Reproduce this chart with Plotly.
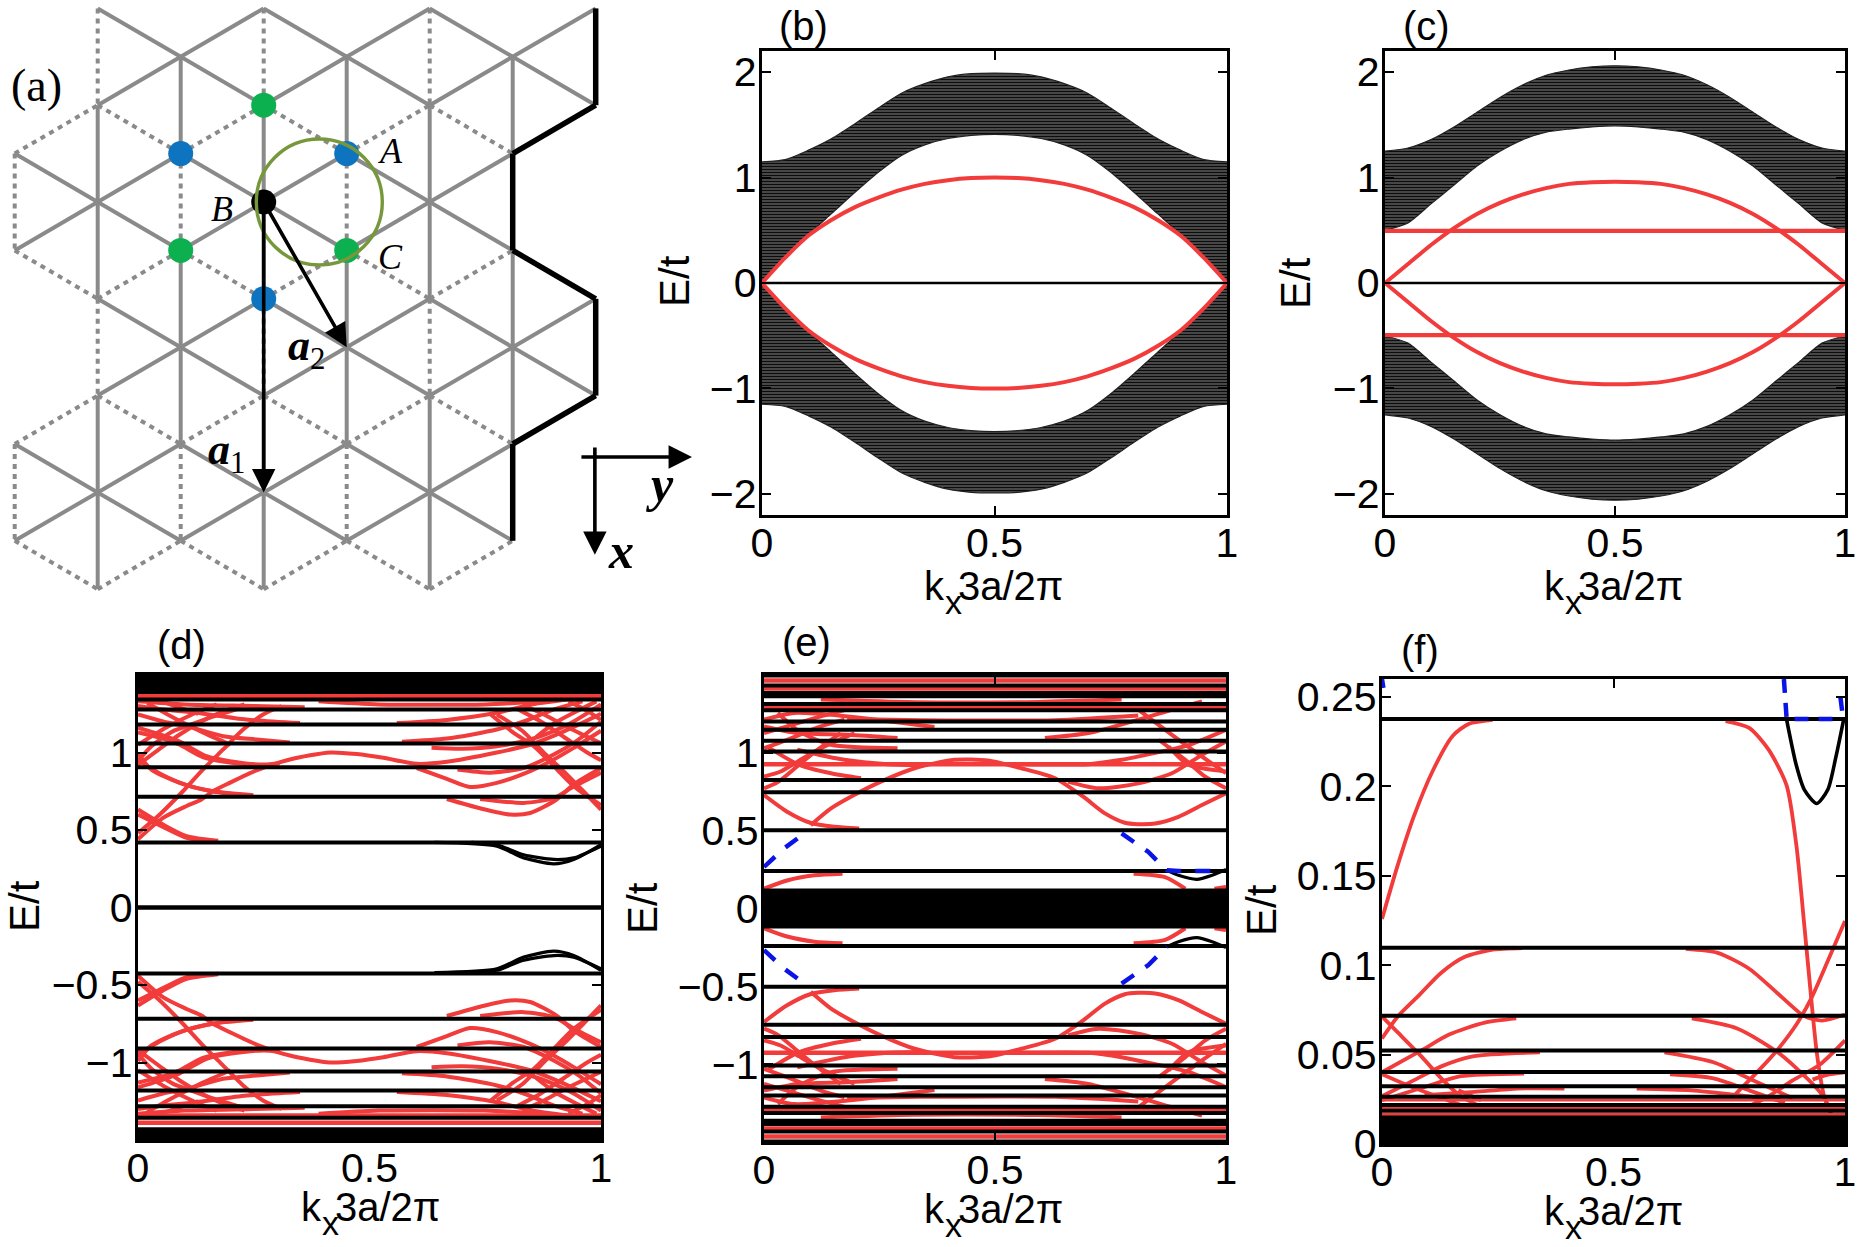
import plotly.graph_objects as go

W, H = 1859, 1247
RED = "#F23B3B"
BLUE = "#0A14E6"
GREY = "#8A8A8A"
SANS = "Liberation Sans"
SERIF = "Liberation Serif"

# ---- panel (a): lattice sites, as row indices per column ----
COLUMN_ROWS = [
    [3, 5, 9, 11],
    [0, 2, 4, 6, 8, 10, 12],
    [1, 3, 5, 7, 9, 11],
    [0, 2, 4, 6, 8, 10, 12],
    [1, 3, 5, 7, 9, 11],
    [0, 2, 4, 6, 8, 10, 12],
    [1, 3, 5, 7, 9, 11],
    [0, 2, 6, 8],
]
BLUE_SITES = [(2, 3), (4, 3), (3, 6)]
GREEN_SITES = [(3, 2), (2, 5), (4, 5)]
BLACK_SITES = [(3, 4)]

# ---- panels (b), (c): band edges ----
K_EDGE = [0, 0.05, 0.1, 0.15, 0.2, 0.25, 0.3, 0.35, 0.4, 0.45, 0.5]
B_OUTER = [1.15, 1.17, 1.26, 1.37, 1.51, 1.66, 1.80, 1.89, 1.955, 1.985, 1.99]
B_INNER = [0.0, 0.24, 0.46, 0.66, 0.86, 1.05, 1.21, 1.31, 1.37, 1.40, 1.41]
C_OUTER = [1.25, 1.28, 1.36, 1.48, 1.62, 1.76, 1.88, 1.97, 2.02, 2.05, 2.06]
C_INNER = [0.50, 0.57, 0.75, 0.93, 1.11, 1.25, 1.36, 1.43, 1.46, 1.48, 1.49]
K_ARC = [0, 0.05, 0.1, 0.15, 0.2, 0.25, 0.3, 0.35, 0.4, 0.45, 0.5]
E_ARC_B = [0.0, 0.24, 0.45, 0.60, 0.72, 0.81, 0.885, 0.94, 0.975, 0.995, 1.0]
E_ARC_C = [0.0, 0.18, 0.36, 0.52, 0.655, 0.76, 0.84, 0.90, 0.94, 0.955, 0.96]
C_FLAT = [0.495]

# ---- panel (d) ----
D_LEVELS_UP = [0.42, 0.715, 0.905, 1.058, 1.18, 1.277, 1.342, 1.39, 1.41, 1.43, 1.45, 1.47, 1.49]
D_LEVELS_DOWN = [-0.426, -0.718, -0.91, -1.058, -1.181, -1.282, -1.357, -1.43, -1.45, -1.47, -1.49]
D_ZERO = [0.0]
D_RED_LEVELS = [1.363, -1.389, -1.342]
D_BLACK_1 = [(0.64, 0.42), (0.775, 0.396), (0.833, 0.32), (0.898, 0.282), (0.941, 0.31), (1, 0.406)]
D_BLACK_2 = [(0.72, 0.42), (0.775, 0.405), (0.833, 0.34), (0.898, 0.31), (0.941, 0.32), (1, 0.396)]
D_1 = [(0, 0.632), (0.054, 0.535), (0.105, 0.46), (0.173, 0.43)]
D_2 = [(0, 0.60), (0.054, 0.52), (0.105, 0.45), (0.173, 0.428)]
D_3 = [(0, 0.48), (0.047, 0.60), (0.097, 0.75), (0.137, 0.88), (0.184, 1.02), (0.227, 1.148), (0.27, 1.245), (0.31, 1.30)]
D_4 = [(0, 0.44), (0.054, 0.578), (0.105, 0.655), (0.137, 0.697), (0.162, 0.75), (0.198, 0.804), (0.256, 0.884),
       (0.328, 0.955), (0.415, 1.0), (0.472, 0.99), (0.53, 0.966), (0.602, 0.927), (0.667, 0.94), (0.775, 1.0),
       (0.847, 1.05), (0.9, 1.11), (0.941, 1.165), (1, 1.25)]
D_5 = [(0, 0.99), (0.029, 0.89), (0.09, 0.804), (0.162, 0.75), (0.249, 0.725)]
D_6 = [(0, 0.95), (0.05, 0.86), (0.105, 0.79), (0.17, 0.745), (0.249, 0.72)]
D_7 = [(0, 1.16), (0.054, 1.11), (0.09, 1.07), (0.148, 0.976), (0.198, 0.944), (0.27, 0.922), (0.306, 0.93)]
D_8 = [(0, 1.13), (0.054, 1.09), (0.09, 1.05), (0.14, 0.97), (0.198, 0.935), (0.27, 0.915)]
D_9 = [(0, 0.944), (0.029, 1.04), (0.076, 1.138), (0.105, 1.17), (0.16, 1.23), (0.22, 1.285)]
D_10 = [(0, 0.92), (0.054, 1.04), (0.09, 1.116), (0.137, 1.2), (0.176, 1.256), (0.23, 1.31)]
D_11 = [(0, 1.245), (0.054, 1.2), (0.105, 1.17), (0.184, 1.105), (0.256, 1.084), (0.328, 1.065)]
D_12 = [(0, 1.30), (0.054, 1.278), (0.126, 1.256), (0.234, 1.213), (0.35, 1.19)]
D_13 = [(0, 1.33), (0.1, 1.31), (0.25, 1.30), (0.36, 1.292)]
D_14 = [(0.667, 0.70), (0.739, 0.64), (0.804, 0.60), (0.847, 0.61), (0.904, 0.697), (0.941, 0.794), (1, 0.90)]
D_15 = [(0.739, 0.70), (0.833, 0.675), (0.898, 0.707), (0.941, 0.78), (1, 0.87)]
D_16 = [(0.602, 0.90), (0.667, 0.83), (0.717, 0.778), (0.775, 0.804), (0.847, 0.88), (0.898, 0.955), (0.941, 1.03), (1, 1.14)]
D_17 = [(0.69, 0.89), (0.76, 0.87), (0.833, 0.90), (0.9, 0.99), (0.95, 1.08), (1, 1.20)]
D_18 = [(0.634, 1.03), (0.70, 1.024), (0.775, 1.04), (0.847, 1.084), (0.898, 1.138), (0.941, 1.20), (1, 1.31)]
D_19 = [(0.57, 1.07), (0.667, 1.09), (0.775, 1.148), (0.833, 1.20), (0.90, 1.28), (0.96, 1.33)]
D_20 = [(0.559, 1.19), (0.667, 1.21), (0.775, 1.256), (0.85, 1.31), (0.95, 1.35)]
D_21 = [(0.775, 1.245), (0.83, 1.14), (0.876, 1.0), (0.919, 0.88), (0.962, 0.75), (1, 0.632)]
D_22 = [(0.76, 1.25), (0.81, 1.13), (0.855, 1.04), (0.898, 0.912), (0.941, 0.783), (1, 0.66)]
D_23 = [(0.82, 1.28), (0.87, 1.20), (0.92, 1.10), (0.97, 1.0), (1, 0.95)]
D_24 = [(0.39, 1.33), (0.52, 1.31), (0.75, 1.31), (0.87, 1.33)]
D_25 = [(0, 1.05), (0.06, 1.16), (0.12, 1.25), (0.17, 1.31)]
D_26 = [(0.02, 1.32), (0.08, 1.22), (0.14, 1.13), (0.2, 1.05)]
D_27 = [(0.83, 1.31), (0.88, 1.24), (0.93, 1.16), (1, 1.06)]
D_28 = [(0.86, 1.10), (0.90, 1.19), (0.95, 1.27), (0.99, 1.33)]
D_29 = [(0.93, 1.33), (0.97, 1.27), (1, 1.21)]
D_30 = [(0.05, 1.33), (0.09, 1.29), (0.13, 1.25)]
D_RED_CURVES = [D_1, D_2, D_3, D_4, D_5, D_6, D_7, D_8, D_9, D_10, D_11, D_12, D_13, D_14, D_15, D_16,
                D_17, D_18, D_19, D_20, D_21, D_22, D_23, D_24, D_25, D_26, D_27, D_28, D_29, D_30]

# ---- panel (e) ----
E_LEVELS = [0.241, 0.503, 0.746, 0.826, 1.009, 1.077, 1.148, 1.202, 1.273, 1.314, 1.363, 1.385, 1.432, 1.497]
E_CORE = [0.0, 0.02, 0.04, 0.06, 0.08, 0.10, 0.113, -0.02, -0.04, -0.06, -0.08, -0.10, -0.113]
E_RED_LEVELS = [0.927, 1.288, 1.413, 1.465]
E_1 = [(0, 0.729), (0.05, 0.622), (0.10, 0.551), (0.152, 0.525), (0.206, 0.514)]
E_2 = [(0.101, 0.535), (0.145, 0.643), (0.195, 0.729), (0.253, 0.815), (0.326, 0.901), (0.412, 0.955), (0.485, 0.951),
       (0.557, 0.901), (0.63, 0.837), (0.691, 0.718), (0.738, 0.611), (0.781, 0.551), (0.81, 0.542), (0.847, 0.546),
       (0.897, 0.589), (0.948, 0.665), (1, 0.74)]
E_3 = [(0, 0.127), (0.05, 0.18), (0.109, 0.213), (0.17, 0.224)]
E_4 = [(0.80, 0.224), (0.868, 0.202), (0.912, 0.127)]
E_5 = [(0.975, 0.127), (1, 0.138)]
E_6 = [(0, 0.772), (0.029, 0.81), (0.076, 0.923), (0.116, 1.02), (0.166, 1.127)]
E_7 = [(0.007, 1.04), (0.076, 0.923), (0.145, 0.869), (0.21, 0.837)]
E_8 = [(0, 0.847), (0.036, 0.88), (0.076, 0.95), (0.13, 1.04), (0.196, 1.127)]
E_9 = [(0.072, 1.02), (0.174, 0.955), (0.268, 0.927), (0.34, 0.922)]
E_10 = [(0.557, 0.927), (0.702, 0.927), (0.774, 0.955), (0.847, 1.0), (0.919, 1.05), (1, 1.148)]
E_11 = [(0.854, 1.084), (0.912, 0.955), (0.955, 0.847), (1, 0.772)]
E_12 = [(0.876, 1.04), (0.919, 0.923), (1, 0.88)]
E_13 = [(0.658, 0.815), (0.724, 0.772), (0.81, 0.804), (0.883, 0.869), (0.948, 0.987), (1, 1.073)]
E_14 = [(0.608, 1.095), (0.702, 1.127), (0.81, 1.213), (0.883, 1.277), (0.948, 1.331)]
E_15 = [(0, 1.17), (0.072, 1.127), (0.181, 1.116), (0.289, 1.095)]
E_16 = [(0, 1.127), (0.05, 1.17), (0.123, 1.234), (0.21, 1.30)]
E_17 = [(0, 1.213), (0.065, 1.256), (0.181, 1.234), (0.369, 1.166)]
E_18 = [(0.18, 1.217), (0.34, 1.21), (0.63, 1.21), (0.81, 1.24)]
E_19 = [(0.123, 1.342), (0.326, 1.325), (0.594, 1.327), (0.774, 1.342)]
E_20 = [(0.81, 1.277), (0.883, 1.116), (0.948, 0.976), (1, 0.87)]
E_21 = [(0.03, 1.256), (0.076, 1.138), (0.145, 1.052), (0.289, 1.03)]
E_22 = [(0, 1.03), (0.05, 1.084), (0.123, 1.17), (0.174, 1.213)]
E_RED_CURVES = [E_1, E_2, E_3, E_4, E_5, E_6, E_7, E_8, E_9, E_10, E_11, E_12, E_13, E_14, E_15, E_16,
                E_17, E_18, E_19, E_20, E_21, E_22]
E_BLACK = [(0.872, 0.245), (0.897, 0.213), (0.937, 0.187), (0.97, 0.213), (1, 0.25)]
E_BLUE_L = [(0, 0.267), (0.043, 0.385), (0.087, 0.482)]
E_BLUE_R = [(0.774, 0.482), (0.832, 0.363), (0.872, 0.245), (0.897, 0.241), (0.977, 0.241)]

# ---- panel (f) ----
F_LEVELS = [0.2376, 0.1098, 0.0717, 0.0523, 0.0402, 0.0323, 0.0264, 0.0218, 0.0186]
F_CORE = [0.0005, 0.002, 0.0035, 0.005, 0.0065, 0.008, 0.0095, 0.011, 0.0125, 0.014, 0.015]
F_RED_LEVELS = [0.0245, 0.0202, 0.0165]
F_1 = [(0, 0.1258), (0.034, 0.1559), (0.068, 0.1826), (0.111, 0.2094), (0.153, 0.2283), (0.188, 0.235), (0.239, 0.2372)]
F_2 = [(0.742, 0.2365), (0.793, 0.2327), (0.835, 0.2205), (0.874, 0.2004), (0.895, 0.167), (0.912, 0.1225),
       (0.921, 0.098), (0.939, 0.0512), (0.955, 0.0267), (0.972, 0.0156)]
F_3 = [(0, 0.059), (0.034, 0.0713), (0.077, 0.0824), (0.128, 0.0958), (0.179, 0.1047), (0.239, 0.1087), (0.303, 0.1096)]
F_4 = [(0.656, 0.1091), (0.725, 0.1069), (0.793, 0.098), (0.853, 0.0846), (0.912, 0.0715), (0.95, 0.069), (1, 0.0724)]
F_5 = [(0.759, 0.0267), (0.818, 0.0423), (0.853, 0.0523), (0.895, 0.0668), (0.929, 0.0824), (0.963, 0.1024), (1, 0.1247)]
F_6 = [(0, 0.0713), (0.034, 0.0624), (0.085, 0.049), (0.128, 0.0367), (0.17, 0.0267), (0.222, 0.02)]
F_7 = [(0, 0.0401), (0.085, 0.0523), (0.145, 0.0612), (0.222, 0.0679), (0.29, 0.0702)]
F_8 = [(0.669, 0.0702), (0.767, 0.0646), (0.861, 0.0501), (0.946, 0.029), (0.972, 0.0178)]
F_9 = [(0, 0.0267), (0.077, 0.0367), (0.128, 0.0434), (0.196, 0.049), (0.341, 0.0512)]
F_10 = [(0.61, 0.0512), (0.716, 0.0457), (0.801, 0.0356), (0.887, 0.0256)]
F_11 = [(0.784, 0.02), (0.835, 0.0267), (0.887, 0.0356), (0.946, 0.0445), (1, 0.0579)]
F_12 = [(0, 0.039), (0.05, 0.0334), (0.136, 0.025), (0.19, 0.02)]
F_13 = [(0.93, 0.036), (0.96, 0.0385), (1, 0.04)]
F_14 = [(0, 0.0245), (0.094, 0.032), (0.17, 0.0379), (0.307, 0.0394)]
F_15 = [(0.622, 0.039), (0.716, 0.0367), (0.793, 0.03), (0.87, 0.023)]
F_16 = [(0.092, 0.0273), (0.2, 0.0291), (0.293, 0.031), (0.394, 0.031)]
F_17 = [(0.55, 0.031), (0.668, 0.03), (0.77, 0.0273), (0.86, 0.0245)]
F_18 = [(0.165, 0.03), (0.214, 0.0245)]
F_RED_CURVES = [F_1, F_2, F_3, F_4, F_5, F_6, F_7, F_8, F_9, F_10, F_11, F_12, F_13, F_14, F_15, F_16, F_17, F_18]
F_BLACK = [(0.874, 0.2372), (0.895, 0.2116), (0.912, 0.1982), (0.939, 0.1904), (0.963, 0.1982), (0.98, 0.216), (0.997, 0.2372)]
F_BLUE_1 = [(0.868, 0.26), (0.874, 0.2376), (0.99, 0.2376)]
F_BLUE_2 = [(0.99, 0.25), (0.996, 0.2376)]
F_BLUE_3 = [(0.0, 0.26), (0.003, 0.255)]

# Pixel boxes of the axes: left, right, top, bottom
BOXES = {
    "a": (0, 700, 0, 600),
    "b": (762, 1227, 51, 515),
    "c": (1385, 1845, 51, 515),
    "d": (138, 601, 675, 1140),
    "e": (764, 1226, 675, 1142),
    "f": (1382, 1845, 679, 1144),
}


def px(x, y):
    return x / W, 1 - y / H


def mirrored(pts):
    return [(k, -e) for k, e in pts]


def xy(pts):
    return [p[0] for p in pts], [p[1] for p in pts]


fig = go.Figure()
SUB = {"a": "", "b": "2", "c": "3", "d": "4", "e": "5", "f": "6"}


def add_curve(panel, xs, ys, color, width, dash=None, spline=True, **kw):
    s = SUB[panel]
    line = dict(color=color, width=width)
    if spline:
        line.update(shape="spline", smoothing=0.7)
    if dash:
        line["dash"] = dash
    fig.add_trace(go.Scatter(x=xs, y=ys, mode="lines", line=line, xaxis="x" + s, yaxis="y" + s,
                             showlegend=False, hoverinfo="skip", **kw))


def add_levels(panel, levels, color="black", width=4):
    xs, ys = [], []
    for v in levels:
        xs += [0, 1, None]
        ys += [v, v, None]
    add_curve(panel, xs, ys, color, width, spline=False)


def add_band(panel, k, inner, outer):
    add_curve(panel, k, inner, "#222222", 1.2)
    s = SUB[panel]
    fig.add_trace(go.Scatter(
        x=k, y=outer, mode="lines", line=dict(color="#222222", width=1.2, shape="spline", smoothing=0.7),
        fill="tonexty", fillcolor="#111111",
        fillpattern=dict(shape="-", size=3, solidity=0.6, fgcolor="#0c0c0c", bgcolor="#6e6e6e"),
        xaxis="x" + s, yaxis="y" + s, showlegend=False, hoverinfo="skip"))


# ---- lattice of panel (a) ----
sites = {(i, j) for i, rows in enumerate(COLUMN_ROWS) for j in rows}
solid, dotted, thick = ([], []), ([], []), ([], [])


def push(store, a, b):
    store[0].extend([a[0], b[0], None])
    store[1].extend([a[1], b[1], None])


for (i, j) in sorted(sites):
    # vertical bond
    if (i, j + 2) in sites:
        is_cut = j % 3 == 0
        store = (thick if i >= 6 else dotted) if is_cut else solid
        push(store, (i, j), (i, j + 2))
    # slanted bonds to the next column
    for nb in ((i + 1, j + 1), (i + 1, j - 1)):
        if nb in sites:
            low = min(j, nb[1])
            is_cut = low % 3 == 2
            store = (thick if i == 6 else dotted) if is_cut else solid
            push(store, (i, j), nb)

add_curve("a", solid[0], solid[1], GREY, 4, spline=False)
add_curve("a", dotted[0], dotted[1], GREY, 4, dash="5px,5px", spline=False)
add_curve("a", thick[0], thick[1], "black", 5.5, spline=False)
for group, colour in ((BLUE_SITES, "#0E74BF"), (GREEN_SITES, "#0CB04E"), (BLACK_SITES, "black")):
    fig.add_trace(go.Scatter(x=[g[0] for g in group], y=[g[1] for g in group], mode="markers",
                             marker=dict(color=colour, size=25), xaxis="x", yaxis="y",
                             showlegend=False, hoverinfo="skip"))

# ---- panel (b) ----
k_full = K_EDGE + [round(1 - v, 3) for v in K_EDGE[-2::-1]]


def sym(v):
    return v + v[-2::-1]


def neg(v):
    return [-a for a in v]


add_band("b", k_full, sym(B_INNER), sym(B_OUTER))
add_band("b", k_full, neg(sym(B_INNER)), neg(sym(B_OUTER)))
add_levels("b", [0.0], width=2.4)
k_arc = K_ARC + [round(1 - v, 3) for v in K_ARC[-2::-1]]
add_curve("b", k_arc, sym(E_ARC_B), RED, 4)
add_curve("b", k_arc, neg(sym(E_ARC_B)), RED, 4)

# ---- panel (c) ----
add_band("c", k_full, sym(C_INNER), sym(C_OUTER))
add_band("c", k_full, neg(sym(C_INNER)), neg(sym(C_OUTER)))
add_levels("c", [0.0], width=2.4)
add_curve("c", k_arc, sym(E_ARC_C), RED, 4)
add_curve("c", k_arc, neg(sym(E_ARC_C)), RED, 4)
add_levels("c", C_FLAT + neg(C_FLAT), RED, 4.2)

# ---- panel (d): the spectrum is symmetric about E = 0 ----
for c in D_RED_CURVES:
    add_curve("d", *xy(c), RED, 4)
    add_curve("d", *xy(mirrored(c)), RED, 4)
add_levels("d", D_RED_LEVELS, RED, 4.5)
for c in (D_BLACK_1, D_BLACK_2):
    add_curve("d", *xy(c), "black", 3.2)
    add_curve("d", *xy(mirrored(c)), "black", 3.2)
add_levels("d", D_LEVELS_UP + D_LEVELS_DOWN)
add_levels("d", D_ZERO, width=4.5)

# ---- panel (e) ----
for c in E_RED_CURVES:
    add_curve("e", *xy(c), RED, 4)
    add_curve("e", *xy(mirrored(c)), RED, 4)
add_levels("e", E_RED_LEVELS + neg(E_RED_LEVELS), RED, 4.5)
add_curve("e", *xy(E_BLACK), "black", 3.2)
add_curve("e", *xy(mirrored(E_BLACK)), "black", 3.2)
add_levels("e", E_LEVELS + neg(E_LEVELS))
add_levels("e", E_CORE, width=5)
for c in (E_BLUE_L, E_BLUE_R):
    add_curve("e", *xy(c), BLUE, 4.5, dash="15px,14px", spline=False)
add_curve("e", *xy(mirrored(E_BLUE_L)), BLUE, 4.5, dash="15px,14px", spline=False)
add_curve("e", *xy(mirrored(E_BLUE_R[:3])), BLUE, 4.5, dash="15px,14px", spline=False)

# ---- panel (f) ----
for c in F_RED_CURVES:
    add_curve("f", *xy(c), RED, 3.8)
add_levels("f", F_RED_LEVELS, RED, 2.8)
add_curve("f", *xy(F_BLACK), "black", 3.6)
add_levels("f", F_LEVELS)
add_levels("f", F_CORE, width=3.4)
for c in (F_BLUE_1, F_BLUE_2, F_BLUE_3):
    add_curve("f", *xy(c), BLUE, 4.5, dash="14px,10px", spline=False)


# ---- axes ----
def dom(box):
    l, r, t, b = box
    return dict(x=[l / W, r / W], y=[1 - b / H, 1 - t / H])


TICK_SIZE = 41
YTICKS = {
    "b": ([-2, -1, 0, 1, 2], ["\u22122", "\u22121", "0", "1", "2"], [-2.2, 2.2]),
    "c": ([-2, -1, 0, 1, 2], ["\u22122", "\u22121", "0", "1", "2"], [-2.2, 2.2]),
    "d": ([-1, -0.5, 0, 0.5, 1], ["\u22121", "\u22120.5", "0", "0.5", "1"], [-1.5, 1.5]),
    "e": ([-1, -0.5, 0, 0.5, 1], ["\u22121", "\u22120.5", "0", "0.5", "1"], [-1.5, 1.5]),
    "f": ([0, 0.05, 0.1, 0.15, 0.2, 0.25], ["0", "0.05", "0.1", "0.15", "0.2", "0.25"], [0, 0.26]),
}
layout = dict(
    width=W, height=H, margin=dict(l=0, r=0, t=0, b=0, autoexpand=False), autosize=False,
    template="none", paper_bgcolor="white", plot_bgcolor="white", showlegend=False,
    font=dict(family=SANS, size=TICK_SIZE, color="black"),
)
COL_PX, ROW_PX, X0_PX, Y0_PX = 83.0, 48.4, 14.7, 8.4
l, r, t, b = BOXES["a"]
d = dom(BOXES["a"])
layout["xaxis"] = dict(domain=d["x"], range=[(l - X0_PX) / COL_PX, (r - X0_PX) / COL_PX], visible=False,
                       fixedrange=True, automargin=False)
layout["yaxis"] = dict(domain=d["y"], range=[(b - Y0_PX) / ROW_PX, (t - Y0_PX) / ROW_PX], visible=False,
                       fixedrange=True, automargin=False)
AXIS = dict(showline=True, linecolor="black", linewidth=3.4, mirror="ticks", ticks="inside", ticklen=9,
            tickwidth=2.4, tickcolor="black", showgrid=False, zeroline=False, automargin=False,
            tickfont=dict(family=SANS, size=TICK_SIZE, color="black"))
for p in "bcdef":
    s = SUB[p]
    d = dom(BOXES[p])
    vals, text_, rng = YTICKS[p]
    layout["xaxis" + s] = dict(AXIS, domain=d["x"], anchor="y" + s, range=[0, 1], tickvals=[0, 0.5, 1],
                               ticktext=["0", "0.5", "1"], ticklabelstandoff=-10)
    layout["yaxis" + s] = dict(AXIS, domain=d["y"], anchor="x" + s, range=rng, tickvals=vals, ticktext=text_,
                               ticklabelstandoff=-6)
fig.update_layout(**layout)


# ---- annotations ----
def text(s, x, y, size=41, family=SANS, angle=0):
    xp, yp = px(x, y)
    fig.add_annotation(text=s, x=xp, y=yp, xref="paper", yref="paper", showarrow=False,
                       xanchor="center", yanchor="middle", textangle=angle,
                       font=dict(family=family, size=size, color="black"))


text("(a)", 36, 85, 46, SERIF)
text("(b)", 803, 26, 40)
text("(c)", 1426, 26, 40)
text("(d)", 181, 645, 40)
text("(e)", 806, 642, 40)
text("(f)", 1420, 650, 40)
for cx, cy in ((674, 281), (1295, 283), (24, 906), (642, 908), (1261, 910)):
    text("E/t", cx, cy, 42, angle=-90)
# Axis label: the subscript is nearly the size of the text around it
LABEL_SIZE = 40
for cx, bottom, lift in ((993, 515, 71), (1613, 515, 71), (370, 1140, 67), (993, 1142, 67), (1613, 1144, 67)):
    text("k", cx - 59, bottom + lift, LABEL_SIZE)
    text("x", cx - 40, bottom + lift + 16, 34)
    text("3a/2\u03c0", cx + 17.5, bottom + lift, LABEL_SIZE)
text("<i>A</i>", 390, 151, 36, SERIF)
text("<i>B</i>", 222, 209, 36, SERIF)
text("<i>C</i>", 390, 257, 36, SERIF)
text("<b><i>a</i></b><sub>1</sub>", 226, 453, 44, SERIF)
text("<b><i>a</i></b><sub>2</sub>", 306, 348, 44, SERIF)
text("<b><i>y</i></b>", 660, 484, 50, SERIF)
text("<b><i>x</i></b>", 621, 551, 50, SERIF)


# Arrows of panel (a), in lattice coordinates
def arrow(x0, y0, x1, y1, width=3.6):
    fig.add_annotation(x=x1, y=y1, ax=x0, ay=y0, xref="x", yref="y", axref="x", ayref="y", showarrow=True,
                       arrowhead=2, arrowsize=1.3, arrowwidth=width, arrowcolor="black", standoff=0, text="")


arrow(3, 4, 3, 10)
arrow(3, 4, 4, 7)
arrow(6.81, 9.27, 8.16, 9.27)
arrow(6.99, 9.04, 6.99, 11.29)

# Ring around the unit cell
RING_COL, RING_ROW, RING_R = 3.67, 4.0, 63.0
fig.add_shape(type="circle", xref="x", yref="y", line=dict(color="#76983A", width=3.4),
              x0=RING_COL - RING_R / COL_PX, x1=RING_COL + RING_R / COL_PX,
              y0=RING_ROW - RING_R / ROW_PX, y1=RING_ROW + RING_R / ROW_PX)

fig.write_html("out.html")
